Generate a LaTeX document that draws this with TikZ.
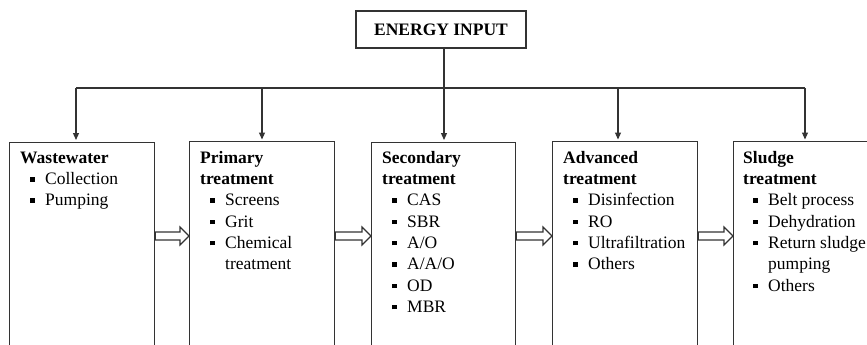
\documentclass[tikz,border=0pt]{standalone}
\usepackage{fontspec}
\setmainfont{Liberation Serif}
\usetikzlibrary{calc,arrows.meta}
\definecolor{lc}{gray}{0.2}
\newcommand{\bul}{\makebox[15pt][l]{\raisebox{3pt}{\rule{4.5pt}{4.5pt}}}}
\newcommand{\itm}[1]{\hspace*{10pt}\bul #1}
\newcommand{\cnt}[1]{\hspace*{25pt}#1}
\newcommand{\fst}{\rule{0pt}{15pt}}
\tikzset{
  box/.style={draw=lc, line width=1.2pt, anchor=north west, minimum height=240pt, inner sep=0pt},
  txt/.style={anchor=north west, align=left, inner sep=0pt, font=\fontsize{17.5}{21.3}\selectfont},
  arr/.style={draw=lc, line width=1.2pt, -{Triangle[length=7pt,width=6pt]}, shorten >=1.5pt},
  conn/.style={draw=lc, line width=1.2pt},
  hol/.style={draw=lc, line width=1.2pt, fill=white, line join=miter},
}
\begin{document}
\begin{tikzpicture}[x=1pt,y=-1pt]
\useasboundingbox (0,0) rectangle (867,345);
\clip (0,0) rectangle (867,345);
\fill[white] (0,0) rectangle (867,345);
% boxes
\node[box, minimum width=145pt] (ww) at (9,141.5) {};
\node[box, minimum width=145pt] (pr) at (189,141) {};
\node[box, minimum width=144pt] (sc) at (371,141.5) {};
\node[box, minimum width=145pt] (ad) at (552,141) {};
\node[box, minimum width=170pt] (sl) at (733,141) {};
% energy
\node[draw=lc, line width=1.2pt, minimum width=170pt, minimum height=37pt, inner sep=0pt,
      font=\fontsize{17.5}{21}\selectfont\bfseries] (en) at (441,29.5) {ENERGY INPUT};
% texts (first baseline at y=163)
\node[txt] (wwt) at (20,148) {\fst\textbf{Wastewater}\\\itm{Collection}\\\itm{Pumping}};
\node[txt] (prt) at (200,148) {\fst\textbf{Primary}\\\textbf{treatment}\\\itm{Screens}\\\itm{Grit}\\\itm{Chemical}\\\cnt{treatment}};
\node[txt] (sct) at (382,148) {\fst\textbf{Secondary}\\\textbf{treatment}\\\itm{CAS}\\\itm{SBR}\\\itm{A/O}\\\itm{A/A/O}\\\itm{OD}\\\itm{MBR}};
\node[txt] (adt) at (563,148) {\fst\textbf{Advanced}\\\textbf{treatment}\\\itm{Disinfection}\\\itm{RO}\\\itm{Ultrafiltration}\\\itm{Others}};
\node[txt] (slt) at (743,148) {\fst\textbf{Sludge}\\\textbf{treatment}\\\itm{Belt process}\\\itm{Dehydration}\\\itm{Return sludge}\\\cnt{pumping}\\\itm{Others}};
% distribution
\coordinate (j1) at (76,88);
\coordinate (j2) at (262,88);
\coordinate (j3) at (444,88);
\coordinate (j4) at (618,88);
\coordinate (j5) at (805,88);
\draw[conn] (j1) -- (j5);
\draw[arr] (j1) -- (j1 |- ww.north);
\draw[arr] (j2) -- (j2 |- pr.north);
\draw[arr] (j3 |- en.south) -- (j3 |- sc.north);
\draw[arr] (j4) -- (j4 |- ad.north);
\draw[arr] (j5) -- (j5 |- sl.north);
% hollow arrows
\foreach \a/\b in {ww/pr, pr/sc, sc/ad, ad/sl}{
  \draw[hol] ($(\a.north east |- 0,232)$) -- ($(\b.north west |- 0,232)+(-9,0)$)
     -- ($(\b.north west |- 0,227)+(-9,0)$) -- ($(\b.north west |- 0,236)$)
     -- ($(\b.north west |- 0,245)+(-9,0)$) -- ($(\b.north west |- 0,240)+(-9,0)$)
     -- ($(\a.north east |- 0,240)$) -- cycle;
}
\end{tikzpicture}
\end{document}
